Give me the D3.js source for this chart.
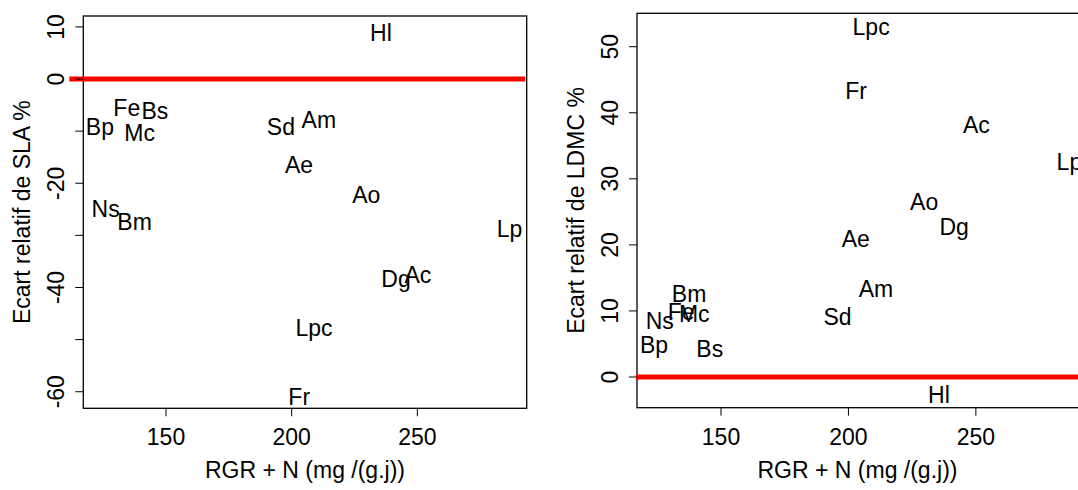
<!DOCTYPE html>
<html><head><meta charset="utf-8">
<script src="https://cdn.jsdelivr.net/npm/d3@7"></script>
<style>body{margin:0;background:#fff}svg{display:block}text{font-family:"Liberation Sans",Arial,sans-serif;fill:#000}</style>
</head><body>
<script>
const species = ["Hl","Fe","Bs","Bp","Mc","Sd","Am","Ae","Ao","Ns","Bm","Lp","Dg","Ac","Lpc","Fr"];
const rgrN = [235.5,134.4,145.6,123.7,139.5,195.7,210.8,202.9,229.7,126.0,137.5,286.7,241.5,250.2,208.9,203.0];
const ecartSLA = [7.9,-6.4,-7.1,-10.0,-11.3,-10.0,-8.7,-17.3,-23.2,-25.9,-28.4,-29.7,-39.2,-38.5,-48.7,-61.9];
const ecartLDMC = [-3.4,9.1,3.6,4.1,8.9,8.45,12.7,20.2,25.8,7.8,11.9,31.8,22.0,37.4,52.3,42.6];
const xTicks = [150,200,250];
const slaTicks = [-60,-50,-40,-30,-20,-10,0,10];
const slaTickLabels = [-60,-40,-20,0,10];
const ldmcTicks = [0,10,20,30,40,50];
const ldmcTickLabels = [0,10,20,30,40,50];
const xTitle = "RGR + N (mg /(g.j))";

const W = 1078, H = 490, FS = 23;
const svg = d3.select("body").append("svg").attr("width", W).attr("height", H);
svg.append("rect").attr("width", W).attr("height", H).attr("fill", "#fff");

function panel(cfg) {
  const x = d3.scaleLinear().domain(cfg.xDomain).range(cfg.xRange);
  const y = d3.scaleLinear().domain(cfg.yDomain).range(cfg.yRange);
  const g = svg.append("g");
  const [x0, x1] = cfg.xRange, [y1, y0] = cfg.yRange;
  g.append("rect").attr("x", x0).attr("y", y0).attr("width", x1 - x0).attr("height", y1 - y0)
    .attr("fill", "none").attr("stroke", "#000").attr("stroke-width", 1.3);
  g.append("line").attr("x1", x0 + cfg.refStart).attr("x2", Math.min(x1 + cfg.refEnd, W))
    .attr("y1", y(0)).attr("y2", y(0)).attr("stroke", "#ff0000").attr("stroke-width", 5);
  g.selectAll(".xt").data(xTicks).join("line")
    .attr("x1", d => x(d)).attr("x2", d => x(d)).attr("y1", y1).attr("y2", y1 + 8)
    .attr("stroke", "#000").attr("stroke-width", 1);
  g.selectAll(".xl").data(xTicks).join("text")
    .attr("x", d => x(d)).attr("y", y1 + 37).attr("text-anchor", "middle")
    .attr("font-size", FS).text(d => d);
  g.append("text").attr("x", (x0 + Math.min(x1, W)) / 2).attr("y", y1 + 70)
    .attr("text-anchor", "middle").attr("font-size", FS).text(xTitle);
  g.selectAll(".yt").data(cfg.yTicks).join("line")
    .attr("x1", x0 - 8).attr("x2", x0).attr("y1", d => y(d)).attr("y2", d => y(d))
    .attr("stroke", "#000").attr("stroke-width", 1);
  g.selectAll(".yl").data(cfg.yTickLabels).join("text")
    .attr("transform", d => `translate(${x0 - 19},${y(d)}) rotate(-90)`)
    .attr("text-anchor", "middle").attr("font-size", FS).text(d => d);
  g.append("text")
    .attr("transform", `translate(${x0 - 53},${(y0 + y1) / 2}) rotate(-90)`)
    .attr("text-anchor", "middle").attr("font-size", FS).text(cfg.yTitle);
  g.selectAll(".lab").data(species).join("text")
    .attr("x", (d, i) => x(rgrN[i])).attr("y", (d, i) => y(cfg.values[i]))
    .attr("dy", "0.15em").attr("text-anchor", "middle").attr("font-size", FS).text(d => d);
}

panel({
  xDomain: [117.1, 293.5], xRange: [83.3, 526.7],
  yDomain: [-63.18, 12.09], yRange: [408.3, 16],
  values: ecartSLA, yTicks: slaTicks, yTickLabels: slaTickLabels,
  yTitle: "Ecart relatif de SLA %", refStart: -14, refEnd: -1.5
});
panel({
  xDomain: [117.05, 293.6], xRange: [637, 1087],
  yDomain: [-4.65, 55.06], yRange: [407.7, 13.3],
  values: ecartLDMC, yTicks: ldmcTicks, yTickLabels: ldmcTickLabels,
  yTitle: "Ecart relatif de LDMC %", refStart: -1, refEnd: 0
});
</script>
</body></html>
